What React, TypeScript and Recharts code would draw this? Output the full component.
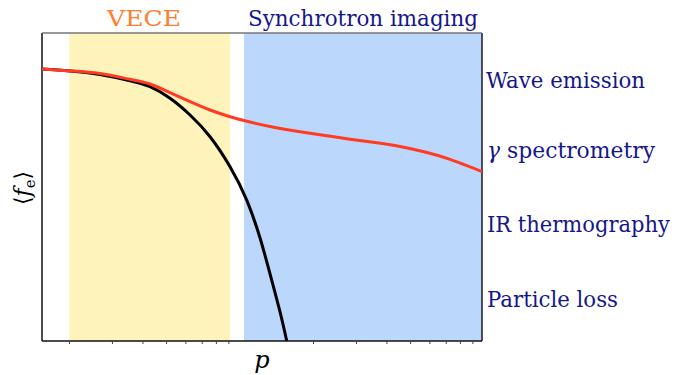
import React from "react";
import {
  ComposedChart,
  Line,
  XAxis,
  YAxis,
  ReferenceArea,
  ReferenceLine,
} from "recharts";

// Black curve (thermal distribution)
const pBlack = [0.1543, 0.2011, 0.2668, 0.3541, 0.4277, 0.5165, 0.6238, 0.7535, 0.91, 1.0653, 1.2078, 1.3274, 1.4585, 1.5536];
const fBlack = [0.883, 0.877, 0.8653, 0.8451, 0.8256, 0.788, 0.7338, 0.6633, 0.5659, 0.4575, 0.3344, 0.2175, 0.0942, 0.0];

// Red curve (with runaway tail)
const pRed = [0.1543, 0.2011, 0.2668, 0.3541, 0.4277, 0.5165, 0.6238, 0.7535, 0.91, 1.099, 1.391, 1.762, 2.23, 2.824, 3.575, 4.526, 5.731, 7.256, 9.81];
const fRed = [0.883, 0.877, 0.8685, 0.8497, 0.8344, 0.8062, 0.777, 0.75, 0.7282, 0.711, 0.6932, 0.6792, 0.6672, 0.6552, 0.6442, 0.6315, 0.6136, 0.5899, 0.5503];

// Diagnostic ranges
const veceRange = [0.2, 0.91];
const synchRange = [1.038, 9.81];
const xDomain = [0.1543, 9.81];
const minorTicks = [0.2, 0.3, 0.4, 0.5, 0.6, 0.7, 0.8, 0.9, 2, 3, 4, 5, 6, 7, 8, 9];

const rightLabels = ["Wave emission", "γ spectrometry", "IR thermography", "Particle loss"];

const blackData = pBlack.map((p, i) => ({ p, f: fBlack[i] }));
const redData = pRed.map((p, i) => ({ p, f: fRed[i] }));

const NAVY = "#16168c";
const ts = { fontFamily: "'DejaVu Serif', serif" };
const RS = 21.5;

export default function App() {
  const W = 679;
  const H = 375;
  return (
    <div style={{ position: "absolute", left: 0, top: 0, width: W, height: H, background: "#fff" }}>
      <ComposedChart
        width={W}
        height={H}
        margin={{ top: 33, right: 197, left: 42, bottom: 0 }}
      >
        <XAxis
          dataKey="p"
          type="number"
          scale="log"
          domain={xDomain}
          allowDataOverflow
          ticks={minorTicks}
          tickFormatter={() => ""}
          tickSize={3}
          height={34}
          axisLine={{ stroke: "#111", strokeWidth: 1.5 }}
          tickLine={{ stroke: "#444", strokeWidth: 1 }}
        />
        <YAxis type="number" domain={[0, 1]} hide allowDataOverflow />
        <ReferenceArea x1={veceRange[0]} x2={veceRange[1]} y1={0} y2={1} fill="#fdf3bb" fillOpacity={1} stroke="none" ifOverflow="hidden" />
        <ReferenceArea x1={synchRange[0]} x2={synchRange[1]} y1={0} y2={1} fill="#bcd7fc" fillOpacity={1} stroke="none" ifOverflow="hidden" />
        <ReferenceLine x={xDomain[0]} stroke="#111" strokeWidth={1.5} />
        <ReferenceLine x={xDomain[1]} stroke="#1a1a2a" strokeWidth={1.5} />
        <ReferenceLine y={1} stroke="#777" strokeWidth={1.5} />
        <Line
          data={blackData}
          dataKey="f"
          type="natural"
          stroke="#000"
          strokeWidth={3}
          dot={false}
          isAnimationActive={false}
        />
        <Line
          data={redData}
          dataKey="f"
          type="natural"
          stroke="#ff3b22"
          strokeWidth={3}
          dot={false}
          isAnimationActive={false}
        />
      </ComposedChart>
      <svg
        width={W}
        height={H}
        style={{ position: "absolute", left: 0, top: 0, pointerEvents: "none" }}
      >
        <text x={107} y={26} fontSize={23} style={ts} fill="#ff7f2e" textLength={74} lengthAdjust="spacingAndGlyphs">VECE</text>
        <text x={248} y={26} fontSize={23} style={ts} fill={NAVY} textLength={230} lengthAdjust="spacingAndGlyphs">Synchrotron imaging</text>
        <text x={486} y={88} fontSize={RS} style={ts} fill={NAVY} textLength={159} lengthAdjust="spacingAndGlyphs">{rightLabels[0]}</text>
        <text x={487} y={158} fontSize={RS} style={ts} fill={NAVY} textLength={168} lengthAdjust="spacingAndGlyphs">
          <tspan fontStyle="italic">γ</tspan> spectrometry
        </text>
        <text x={487} y={232} fontSize={RS} style={ts} fill={NAVY} textLength={183} lengthAdjust="spacingAndGlyphs">{rightLabels[2]}</text>
        <text x={487} y={307} fontSize={RS} style={ts} fill={NAVY} textLength={131} lengthAdjust="spacingAndGlyphs">{rightLabels[3]}</text>
        <text x={262} y={368} fontSize={24} style={ts} fill="#000" fontStyle="italic" textAnchor="middle">p</text>
        <text
          transform="translate(30,188) rotate(-90)"
          fontSize={22}
          style={ts}
          fill="#000"
          textAnchor="middle"
        >
          ⟨<tspan fontStyle="italic">f</tspan><tspan fontSize={15} dy={5}>e</tspan><tspan dy={-5}>⟩</tspan>
        </text>
      </svg>
    </div>
  );
}
